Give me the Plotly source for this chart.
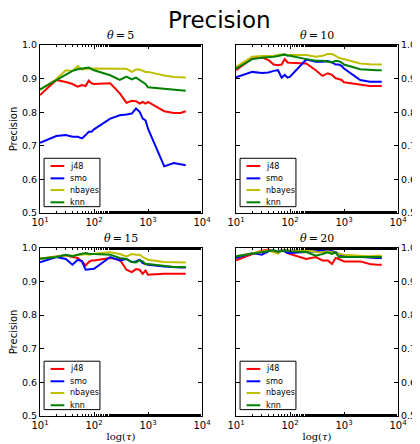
import plotly.graph_objects as go
from plotly.subplots import make_subplots

tau = [10, 20, 30, 40, 50, 60, 70, 80, 90, 100, 200, 300, 400, 500, 600, 700, 800, 900,
       1000, 2000, 3000, 4000, 5000]

classifiers = ["j48", "smo", "nbayes", "knn"]
thetas = [5, 10, 15, 20]

j48_t5 = [0.851, 0.896, 0.890, 0.884, 0.876, 0.881, 0.878, 0.894, 0.886, 0.884, 0.886, 0.856, 0.828, 0.834, 0.833, 0.826, 0.831, 0.826, 0.831, 0.803, 0.798, 0.798, 0.803]
smo_t5 = [0.709, 0.729, 0.732, 0.727, 0.727, 0.722, 0.732, 0.742, 0.742, 0.749, 0.781, 0.791, 0.793, 0.796, 0.811, 0.801, 0.781, 0.776, 0.751, 0.639, 0.649, 0.645, 0.642]
nbayes_t5 = [0.866, 0.898, 0.925, 0.923, 0.937, 0.927, 0.930, 0.930, 0.929, 0.929, 0.929, 0.929, 0.929, 0.920, 0.927, 0.927, 0.924, 0.920, 0.920, 0.909, 0.905, 0.903, 0.903]
knn_t5 = [0.868, 0.896, 0.910, 0.923, 0.928, 0.930, 0.930, 0.933, 0.928, 0.925, 0.910, 0.896, 0.906, 0.898, 0.903, 0.896, 0.888, 0.884, 0.874, 0.869, 0.866, 0.866, 0.864]

j48_t10 = [0.925, 0.960, 0.963, 0.955, 0.942, 0.940, 0.942, 0.958, 0.948, 0.947, 0.945, 0.925, 0.908, 0.916, 0.911, 0.901, 0.899, 0.896, 0.889, 0.881, 0.878, 0.878, 0.878]
smo_t10 = [0.904, 0.920, 0.917, 0.918, 0.923, 0.925, 0.903, 0.911, 0.903, 0.906, 0.957, 0.950, 0.950, 0.952, 0.948, 0.942, 0.942, 0.938, 0.930, 0.896, 0.891, 0.891, 0.891]
nbayes_t10 = [0.935, 0.965, 0.967, 0.967, 0.968, 0.970, 0.972, 0.970, 0.970, 0.970, 0.970, 0.965, 0.968, 0.973, 0.973, 0.968, 0.962, 0.960, 0.958, 0.945, 0.943, 0.942, 0.942]
knn_t10 = [0.930, 0.958, 0.962, 0.963, 0.965, 0.967, 0.970, 0.972, 0.968, 0.968, 0.958, 0.953, 0.953, 0.950, 0.948, 0.953, 0.952, 0.948, 0.942, 0.928, 0.925, 0.925, 0.925]

j48_t15 = [0.968, 0.975, 0.978, 0.973, 0.970, 0.960, 0.948, 0.958, 0.963, 0.963, 0.970, 0.965, 0.935, 0.928, 0.937, 0.935, 0.923, 0.933, 0.920, 0.923, 0.923, 0.923, 0.923]
smo_t15 = [0.957, 0.973, 0.967, 0.950, 0.965, 0.960, 0.935, 0.937, 0.937, 0.938, 0.973, 0.963, 0.967, 0.958, 0.960, 0.965, 0.955, 0.952, 0.950, 0.945, 0.942, 0.942, 0.942]
nbayes_t15 = [0.968, 0.973, 0.978, 0.977, 0.980, 0.980, 0.982, 0.980, 0.982, 0.983, 0.987, 0.982, 0.975, 0.982, 0.980, 0.980, 0.973, 0.968, 0.965, 0.958, 0.957, 0.957, 0.957]
knn_t15 = [0.968, 0.973, 0.980, 0.975, 0.980, 0.983, 0.985, 0.983, 0.982, 0.982, 0.980, 0.970, 0.967, 0.958, 0.957, 0.963, 0.960, 0.952, 0.952, 0.945, 0.943, 0.943, 0.943]

j48_t20 = [0.963, 0.980, 0.992, 0.995, 0.988, 0.988, 0.993, 0.990, 0.985, 0.982, 0.967, 0.973, 0.963, 0.963, 0.952, 0.970, 0.967, 0.962, 0.960, 0.960, 0.952, 0.950, 0.950]
smo_t20 = [0.970, 0.985, 0.980, 0.990, 0.993, 0.988, 0.993, 0.990, 0.985, 0.985, 0.988, 0.990, 0.993, 0.993, 0.990, 0.987, 0.982, 0.978, 0.977, 0.973, 0.970, 0.970, 0.970]
nbayes_t20 = [0.975, 0.985, 0.990, 0.993, 0.987, 0.983, 0.993, 0.993, 0.993, 0.993, 0.993, 0.988, 0.987, 0.990, 0.988, 0.985, 0.983, 0.981, 0.980, 0.977, 0.975, 0.977, 0.977]
knn_t20 = [0.975, 0.982, 0.988, 0.990, 0.993, 0.988, 0.990, 0.993, 0.992, 0.990, 0.988, 0.977, 0.982, 0.987, 0.982, 0.987, 0.973, 0.973, 0.973, 0.973, 0.973, 0.973, 0.973]

x_tickvals = [10, 100, 1000, 10000]
x_ticktext = ["10<sup>1</sup>", "10<sup>2</sup>", "10<sup>3</sup>", "10<sup>4</sup>"]
y_tickvals = [0.5, 0.6, 0.7, 0.8, 0.9, 1.0]

series = {
    5: [j48_t5, smo_t5, nbayes_t5, knn_t5],
    10: [j48_t10, smo_t10, nbayes_t10, knn_t10],
    15: [j48_t15, smo_t15, nbayes_t15, knn_t15],
    20: [j48_t20, smo_t20, nbayes_t20, knn_t20],
}
colors = {"j48": "#ff0000", "smo": "#0000ff", "nbayes": "#bfbf00", "knn": "#008000"}

fig = make_subplots(rows=2, cols=2)

xdom = [[0.0, 0.4525], [0.5475, 1.0]]
ydom = [[0.547, 1.0], [0.0, 0.453]]

annotations = []
shapes = []
for k, th in enumerate(thetas):
    r, c = k // 2 + 1, k % 2 + 1
    idx = "" if k == 0 else str(k + 1)
    xr, yr = "x" + idx, "y" + idx
    for name, vals in zip(classifiers, series[th]):
        fig.add_trace(go.Scatter(x=tau, y=vals, mode="lines", name=name,
                                 line=dict(color=colors[name], width=2),
                                 showlegend=False), row=r, col=c)
    fig.update_xaxes(type="log", range=[1, 4], domain=xdom[c - 1],
                     tickvals=x_tickvals, ticktext=x_ticktext,
                     ticks="inside", ticklen=4, mirror="allticks",
                     showline=True, linecolor="black", linewidth=1,
                     showgrid=False, zeroline=False, automargin=False,
                     tickfont=dict(family="DejaVu Sans", size=10, color="black"),
                     minor=dict(ticks="inside", ticklen=2, tickcolor="black", showgrid=False),
                     tickcolor="black", row=r, col=c)
    fig.update_yaxes(range=[0.5, 1.0], domain=ydom[r - 1], tickvals=y_tickvals,
                     tickformat=".1f", side="left" if c == 1 else "right",
                     ticks="inside", ticklen=4, mirror="allticks",
                     showline=True, linecolor="black", linewidth=1,
                     showgrid=False, zeroline=False, tickcolor="black", automargin=False,
                     tickfont=dict(family="DejaVu Sans", size=9.5, color="black"),
                     row=r, col=c)
    if c == 1:
        fig.update_yaxes(title=dict(text="Precision", standoff=4,
                                    font=dict(family="DejaVu Sans", size=10, color="black")),
                         automargin=False, row=r, col=c)
    if r == 2:
        fig.update_xaxes(title=dict(text="log(<i>τ</i>)", standoff=2,
                                    font=dict(family="DejaVu Serif", size=10, color="black")),
                         automargin=False, row=r, col=c)
    xd, yd = xr + " domain", yr + " domain"
    annotations.append(dict(text="<i>θ</i>\u2009=\u2009" + str(th), xref=xd, yref=yd, x=0.5, y=1.0,
                            yshift=1, showarrow=False, xanchor="center", yanchor="bottom",
                            font=dict(family="DejaVu Serif", size=11, color="black")))
    # legend box
    shapes.append(dict(type="rect", xref=xd, yref=yd, x0=0.025, x1=0.37, y0=0.038, y1=0.326,
                       line=dict(color="black", width=1), fillcolor="white", layer="above"))
    ys = [0.28, 0.2065, 0.137, 0.064]
    for name, yy in zip(classifiers, ys):
        shapes.append(dict(type="line", xref=xd, yref=yd, x0=0.065, x1=0.15, y0=yy, y1=yy,
                           line=dict(color=colors[name], width=2), layer="above"))
        annotations.append(dict(text=name, xref=xd, yref=yd, x=0.175, y=yy, showarrow=False,
                                xanchor="left", yanchor="middle",
                                font=dict(family="DejaVu Sans", size=8, color="black")))

annotations.append(dict(text="Precision", xref="paper", yref="paper", x=0.5, y=1.0,
                        yshift=25, showarrow=False, xanchor="center", yanchor="middle",
                        font=dict(family="DejaVu Sans", size=23, color="black")))

# page body has an 8px margin, so the figure is 8px smaller and shifted accordingly
fig.update_layout(width=412, height=436, margin=dict(l=32, r=22, t=37, b=28),
                  paper_bgcolor="white", plot_bgcolor="white",
                  annotations=annotations, shapes=shapes, showlegend=False)

fig.write_html("out.html")
